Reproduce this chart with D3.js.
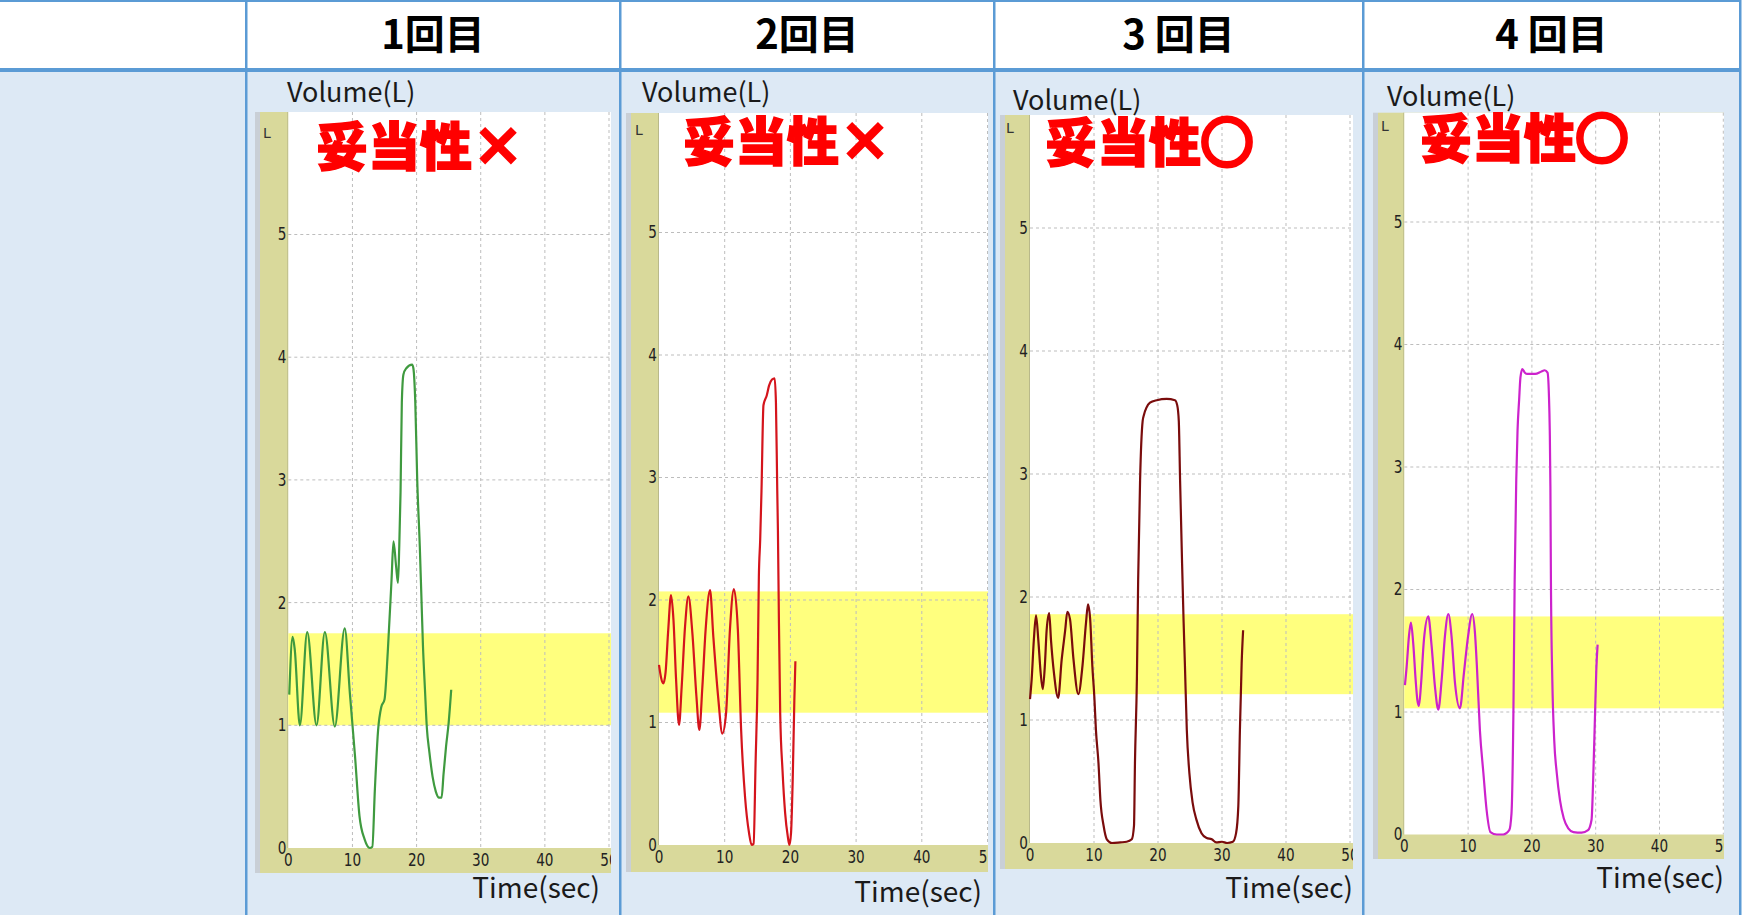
<!DOCTYPE html>
<html><head><meta charset="utf-8">
<script src="https://cdn.jsdelivr.net/npm/d3@7"></script>
<style>body{margin:0;background:#fff;overflow:hidden}</style>
</head><body><svg id="c" width="1742" height="915"></svg>
<script>
// ---------- data ----------
const headers = ["1回目", "2回目", "3 回目", "4 回目"];
const verdictWord = "妥当性";
const verdictMarks = ["×", "×", "○", "○"];
const xTicks = [0, 10, 20, 30, 40, 50];
const yTicks = [0, 1, 2, 3, 4, 5];
const yAxisLabel = "Volume(L)";
const xAxisLabel = "Time(sec)";
const unitLabel = "L";
const bandLow  = [1.00, 1.08, 1.21, 1.03];
const bandHigh = [1.75, 2.07, 1.86, 1.78];

// [time (sec), volume (L)]
const trial1 = [[0.15,1.25],[0.67,1.72],[1.0,1.62],[1.8,1.0],[2.95,1.76],[4.4,1.0],[5.7,1.76],[7.25,0.99],[8.8,1.79],
  [9.6,1.26],[10.4,0.75],[11.1,0.26],[11.9,0.07],[12.7,0.0],[13.1,0.01],[13.5,0.48],[14.0,0.96],[14.5,1.15],[15.0,1.21],
  [15.5,1.59],[16.1,2.19],[16.4,2.5],[16.8,2.3],[17.1,2.16],[17.3,2.46],[17.5,2.9],[17.7,3.63],[17.95,3.86],[18.4,3.91],
  [19.3,3.94],[19.5,3.91],[19.8,3.63],[20.1,3.0],[20.5,2.46],[20.75,2.05],[21.0,1.64],[21.3,1.3],[21.6,0.98],[22.0,0.78],
  [22.5,0.58],[23.0,0.46],[23.5,0.41],[23.9,0.41],[24.2,0.6],[24.6,0.83],[25.0,1.02],[25.4,1.29]];
const trial2 = [[0,1.47],[0.3,1.37],[0.66,1.32],[1.0,1.41],[1.4,1.75],[1.83,2.04],[2.2,1.84],[2.6,1.35],[3.05,0.98],
  [3.45,1.29],[3.96,1.78],[4.47,2.03],[5.08,1.73],[5.7,1.21],[6.14,0.94],[6.6,1.29],[7.1,1.76],[7.77,2.08],[8.27,1.70],
  [9.0,1.21],[9.64,0.91],[10.2,1.07],[10.8,1.76],[11.4,2.09],[12.0,1.76],[12.5,0.94],[13.1,0.39],[13.7,0.1],[14.1,0.0],
  [14.4,0.01],[14.7,0.67],[15.0,1.35],[15.2,2.19],[15.4,2.49],[15.6,2.89],[15.9,3.59],[16.4,3.67],[16.75,3.75],[17.2,3.8],
  [17.6,3.81],[17.8,3.61],[18.0,2.89],[18.1,2.57],[18.25,1.84],[18.45,1.07],[18.8,0.61],[19.2,0.26],[19.6,0.07],[19.85,0.0],
  [20.1,0.1],[20.35,0.53],[20.6,1.18],[20.76,1.5]];
const trial3 = [[0,1.17],[0.26,1.33],[0.6,1.65],[0.94,1.85],[1.3,1.65],[1.67,1.38],[2.0,1.25],[2.34,1.46],[2.6,1.73],
  [3.0,1.87],[3.28,1.65],[3.75,1.38],[4.4,1.18],[4.95,1.49],[5.5,1.73],[5.83,1.88],[6.25,1.82],[6.8,1.49],[7.55,1.21],
  [8.2,1.44],[8.75,1.79],[9.06,1.94],[9.4,1.82],[9.74,1.44],[10.05,1.19],[10.3,0.92],[10.7,0.65],[11.0,0.35],[11.5,0.14],
  [12.0,0.03],[12.8,0.0],[14.1,0.005],[15.1,0.01],[15.9,0.03],[16.25,0.14],[16.4,0.65],[16.7,1.33],[16.9,2.14],[17.2,2.95],
  [17.6,3.43],[17.8,3.48],[18.2,3.54],[18.75,3.58],[19.8,3.6],[21.35,3.61],[22.65,3.6],[23.0,3.56],[23.25,3.43],[23.45,2.95],
  [23.75,2.3],[24.0,1.8],[24.2,1.46],[24.5,0.92],[24.9,0.57],[25.4,0.33],[26.0,0.19],[26.8,0.08],[27.6,0.04],[28.4,0.03],
  [29.1,0.005],[30.0,0.01],[30.8,0.0],[31.7,0.01],[32.2,0.08],[32.55,0.3],[32.8,0.92],[33.07,1.46],[33.3,1.73]];
const trial4 = [[0.1,1.22],[0.37,1.37],[0.73,1.62],[1.04,1.73],[1.4,1.56],[1.78,1.26],[2.04,1.1],[2.3,1.05],[2.6,1.21],
  [3.08,1.59],[3.76,1.78],[4.28,1.54],[4.8,1.21],[5.33,1.02],[5.85,1.26],[6.37,1.62],[6.9,1.8],[7.4,1.62],[7.94,1.24],
  [8.72,1.03],[9.35,1.32],[10.0,1.62],[10.65,1.8],[11.07,1.65],[11.4,1.35],[11.85,0.85],[12.4,0.5],[12.9,0.2],[13.5,0.02],
  [14.5,0.0],[15.5,0.0],[16.45,0.035],[16.8,0.17],[17.1,0.99],[17.3,2.08],[17.55,2.9],[17.75,3.3],[18.0,3.55],[18.2,3.73],
  [18.5,3.8],[18.9,3.77],[19.3,3.76],[20.5,3.76],[21.5,3.78],[22.0,3.79],[22.45,3.77],[22.66,3.6],[22.8,3.3],[22.9,2.84],
  [22.98,2.08],[23.2,1.26],[23.5,0.77],[23.9,0.5],[24.4,0.28],[25.0,0.13],[25.7,0.05],[26.5,0.02],[27.8,0.015],[28.8,0.035],
  [29.35,0.12],[29.6,0.44],[29.9,0.99],[30.1,1.35],[30.3,1.55]];
const trials = [trial1, trial2, trial3, trial4];
const lineColors = ["#3f9a3f", "#d4141c", "#7a0c0c", "#cc22cc"];

// ---------- layout ----------
const W = 1742, H = 915;
const colEdges = [0, 246, 620, 994, 1363, 1740];
const headerBottom = 68;
const panels = [
  {x0:288.3, x50:609.0, right:611, top:112, y0:848,   unit:122.7, khL:260,  khB:873, vx:287,  vy:102, tx:600,  ty:898, ttx:316,  tty:166, lx:263,  ly:138},
  {x0:659.0, x50:987.5, right:988, top:113, y0:845,   unit:122.5, khL:631,  khB:872, vx:642,  vy:102, tx:982,  ty:902, ttx:683,  tty:161, lx:635,  ly:135},
  {x0:1030,  x50:1350,  right:1353,top:115, y0:843,   unit:123.0, khL:1005, khB:869, vx:1013, vy:110, tx:1353, ty:898, ttx:1045, tty:162, lx:1006, ly:133},
  {x0:1404.3,x50:1723.3,right:1724,top:112.7,y0:834.5,unit:122.5, khL:1378, khB:859, vx:1387, vy:106, tx:1724, ty:888, ttx:1420, tty:158, lx:1381, ly:131}
];

const svg = d3.select("#c");
const border = "#5b9bd5";
svg.append("rect").attr("x",0).attr("y",0).attr("width",W).attr("height",headerBottom).attr("fill","#ffffff");
svg.append("rect").attr("x",0).attr("y",headerBottom).attr("width",W).attr("height",H-headerBottom).attr("fill","#dde9f5");
svg.append("rect").attr("x",1740).attr("y",0).attr("width",2).attr("height",H).attr("fill","#ffffff");

headers.forEach((h,i)=>{
  const cx = (colEdges[i+1]+colEdges[i+2])/2;
  svg.append("text").attr("x",cx).attr("y",49)
    .attr("text-anchor","middle")
    .style("font-family","'Noto Sans CJK JP'").style("font-weight",700).style("font-size","40px")
    .attr("fill","#000").text(h);
});

const defs = svg.append("defs");

panels.forEach((p,i)=>{
  const g = svg.append("g");
  const x = d3.scaleLinear().domain([0,50]).range([p.x0, p.x50]);
  const y = d3.scaleLinear().domain([0,1]).range([p.y0, p.y0 - p.unit]);
  g.append("rect").attr("x",p.khL-5).attr("y",p.top).attr("width",5).attr("height",p.khB-p.top).attr("fill","#c9cfd6");
  g.append("rect").attr("x",p.khL).attr("y",p.top).attr("width",p.right-p.khL).attr("height",p.khB-p.top).attr("fill","#d9d99b");
  g.append("rect").attr("x",p.x0-1).attr("y",p.top).attr("width",1).attr("height",p.y0-p.top).attr("fill","#b9b98a");
  g.append("rect").attr("x",p.x0).attr("y",p.top).attr("width",p.right-p.x0).attr("height",p.y0-p.top).attr("fill","#ffffff");
  g.append("rect").attr("x",p.x0).attr("y",y(bandHigh[i])).attr("width",p.right-p.x0)
    .attr("height",y(bandLow[i])-y(bandHigh[i])).attr("fill","#ffff7e");
  g.selectAll(".vg").data(xTicks.slice(1)).enter().append("line")
    .attr("x1",d=>x(d)).attr("x2",d=>x(d)).attr("y1",p.top).attr("y2",p.y0)
    .attr("stroke","#bdbdbd").attr("stroke-width",1).attr("stroke-dasharray","3,3");
  g.selectAll(".hg").data(yTicks.slice(1)).enter().append("line")
    .attr("x1",p.x0).attr("x2",p.right).attr("y1",d=>y(d)).attr("y2",d=>y(d))
    .attr("stroke","#bdbdbd").attr("stroke-width",1).attr("stroke-dasharray","3,3");
  const cid = "clip"+i;
  defs.append("clipPath").attr("id",cid).append("rect")
    .attr("x",p.khL).attr("y",p.top).attr("width",p.right-p.khL).attr("height",p.khB-p.top);
  const lab = g.append("g").attr("clip-path",`url(#${cid})`);
  lab.selectAll(".yl").data(yTicks).enter().append("text")
    .attr("x",p.x0-2).attr("y",d=>y(d)+6).attr("text-anchor","end")
    .attr("transform",`translate(${p.x0-2},0) scale(0.8,1) translate(${-(p.x0-2)},0)`)
    .style("font-family","'DejaVu Sans'").style("font-size","17px").attr("fill","#222").text(d=>d);
  lab.selectAll(".xl").data(xTicks).enter().append("text")
    .attr("x",d=>x(d)).attr("y",p.y0+18).attr("text-anchor","middle")
    .attr("transform",d=>`translate(${x(d)},0) scale(0.8,1) translate(${-x(d)},0)`)
    .style("font-family","'DejaVu Sans'").style("font-size","17px").attr("fill","#222").text(d=>d);
  g.append("text").attr("x",p.lx).attr("y",p.ly).style("font-family","'DejaVu Sans'").style("font-size","14px")
    .attr("fill","#333").text(unitLabel);
  const line = d3.line().x(d=>x(d[0])).y(d=>y(d[1])).curve(d3.curveMonotoneX);
  g.append("path").datum(trials[i]).attr("d",line).attr("fill","none")
    .attr("stroke",lineColors[i]).attr("stroke-width",2.2).attr("stroke-linejoin","round");
  g.append("text").attr("x",p.vx).attr("y",p.vy).style("font-family","'Noto Sans CJK JP'").style("font-size","27px")
    .attr("fill","#1a1a1a").text(yAxisLabel);
  g.append("text").attr("x",p.tx).attr("y",p.ty).attr("text-anchor","end").style("font-family","'Noto Sans CJK JP'")
    .style("font-size","28px").attr("fill","#1a1a1a").text(xAxisLabel);
  const vt = g.append("text").attr("x",p.ttx).attr("y",p.tty).style("font-family","'Noto Sans CJK JP'").style("font-weight",900)
    .style("font-size","52px").attr("fill","#ff0000").attr("stroke","#ff0000").attr("stroke-width",1.5);
  vt.append("tspan").text(verdictWord);
  vt.append("tspan").attr("stroke-width", verdictMarks[i]==="○" ? 5 : 2).text(verdictMarks[i]);
});

const hl = (yy,h)=>svg.append("rect").attr("x",0).attr("y",yy).attr("width",1740).attr("height",h).attr("fill",border);
hl(0,2); hl(headerBottom,4);
colEdges.slice(1).forEach(cx=>{
  svg.append("rect").attr("x",cx-1).attr("y",0).attr("width",2.5).attr("height",H).attr("fill",border);
});
</script></body></html>
